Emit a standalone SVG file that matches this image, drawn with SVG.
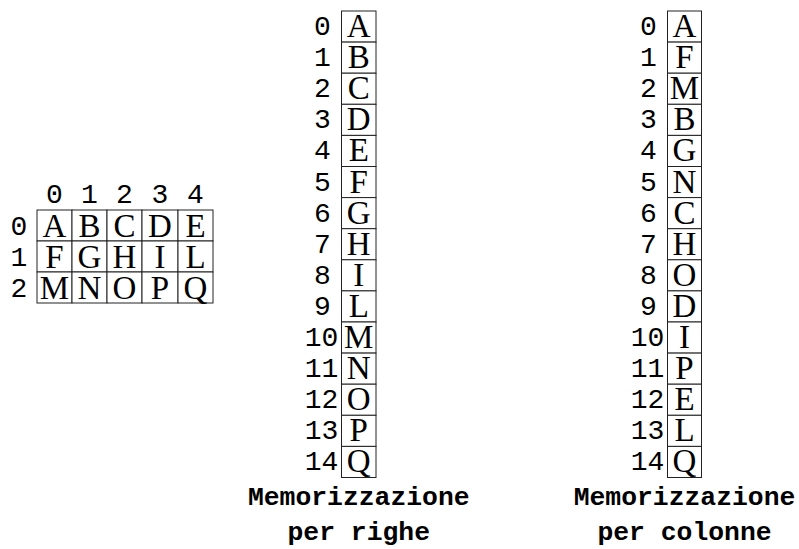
<svg xmlns="http://www.w3.org/2000/svg" width="799" height="549" viewBox="0 0 799 549">
<style>
rect.c{fill:#fff;stroke:#222;stroke-width:1}
text.l{font-family:"Liberation Serif","Times New Roman",serif;font-size:33px;fill:#000;text-anchor:middle}
text.n{font-family:"Liberation Mono","DejaVu Sans Mono",monospace;font-size:28px;fill:#000;text-anchor:middle}
text.t{font-family:"Liberation Mono","Courier New",monospace;font-size:26.4px;font-weight:bold;fill:#000;text-anchor:middle}
</style>
<rect width="799" height="549" fill="#fff"/>
<g id="matrix">
<text class="n" x="54.5" y="203">0</text>
<text class="n" x="89.5" y="203">1</text>
<text class="n" x="124.5" y="203">2</text>
<text class="n" x="160" y="203">3</text>
<text class="n" x="195.5" y="203">4</text>
<text class="n" x="19" y="235">0</text>
<text class="n" x="19" y="266">1</text>
<text class="n" x="19" y="297">2</text>
<g id="m00"><rect class="c" x="37" y="210" width="35" height="31"/><text class="l" x="54.5" y="236.5">A</text></g>
<g id="m01"><rect class="c" x="72" y="210" width="35" height="31"/><text class="l" x="89.5" y="236.5">B</text></g>
<g id="m02"><rect class="c" x="107" y="210" width="35" height="31"/><text class="l" x="124.5" y="236.5">C</text></g>
<g id="m03"><rect class="c" x="142" y="210" width="36" height="31"/><text class="l" x="160" y="236.5">D</text></g>
<g id="m04"><rect class="c" x="178" y="210" width="35" height="31"/><text class="l" x="195.5" y="236.5">E</text></g>
<g id="m10"><rect class="c" x="37" y="241" width="35" height="31"/><text class="l" x="54.5" y="267.5">F</text></g>
<g id="m11"><rect class="c" x="72" y="241" width="35" height="31"/><text class="l" x="89.5" y="267.5">G</text></g>
<g id="m12"><rect class="c" x="107" y="241" width="35" height="31"/><text class="l" x="124.5" y="267.5">H</text></g>
<g id="m13"><rect class="c" x="142" y="241" width="36" height="31"/><text class="l" x="160" y="267.5">I</text></g>
<g id="m14"><rect class="c" x="178" y="241" width="35" height="31"/><text class="l" x="195.5" y="267.5">L</text></g>
<g id="m20"><rect class="c" x="37" y="272" width="35" height="31"/><text class="l" x="54.5" y="298.5">M</text></g>
<g id="m21"><rect class="c" x="72" y="272" width="35" height="31"/><text class="l" x="89.5" y="298.5">N</text></g>
<g id="m22"><rect class="c" x="107" y="272" width="35" height="31"/><text class="l" x="124.5" y="298.5">O</text></g>
<g id="m23"><rect class="c" x="142" y="272" width="36" height="31"/><text class="l" x="160" y="298.5">P</text></g>
<g id="m24"><rect class="c" x="178" y="272" width="35" height="31"/><text class="l" x="195.5" y="298.5">Q</text></g>
</g>
<g id="righe">
<g id="r0"><text class="n" x="322.5" y="35">0</text><rect class="c" x="341.5" y="11" width="34.5" height="31.1"/><text class="l" x="358.75" y="37">A</text></g>
<g id="r1"><text class="n" x="322.5" y="66.1">1</text><rect class="c" x="341.5" y="42.1" width="34.5" height="31.1"/><text class="l" x="358.75" y="68.1">B</text></g>
<g id="r2"><text class="n" x="322.5" y="97.2">2</text><rect class="c" x="341.5" y="73.2" width="34.5" height="31.1"/><text class="l" x="358.75" y="99.2">C</text></g>
<g id="r3"><text class="n" x="322.5" y="128.3">3</text><rect class="c" x="341.5" y="104.3" width="34.5" height="31.1"/><text class="l" x="358.75" y="130.3">D</text></g>
<g id="r4"><text class="n" x="322.5" y="159.4">4</text><rect class="c" x="341.5" y="135.4" width="34.5" height="31.1"/><text class="l" x="358.75" y="161.4">E</text></g>
<g id="r5"><text class="n" x="322.5" y="190.5">5</text><rect class="c" x="341.5" y="166.5" width="34.5" height="31.1"/><text class="l" x="358.75" y="192.5">F</text></g>
<g id="r6"><text class="n" x="322.5" y="221.6">6</text><rect class="c" x="341.5" y="197.6" width="34.5" height="31.1"/><text class="l" x="358.75" y="223.6">G</text></g>
<g id="r7"><text class="n" x="322.5" y="252.7">7</text><rect class="c" x="341.5" y="228.7" width="34.5" height="31.1"/><text class="l" x="358.75" y="254.7">H</text></g>
<g id="r8"><text class="n" x="322.5" y="283.8">8</text><rect class="c" x="341.5" y="259.8" width="34.5" height="31.1"/><text class="l" x="358.75" y="285.8">I</text></g>
<g id="r9"><text class="n" x="322.5" y="314.9">9</text><rect class="c" x="341.5" y="290.9" width="34.5" height="31.1"/><text class="l" x="358.75" y="316.9">L</text></g>
<g id="r10"><text class="n" x="321.5" y="346">10</text><rect class="c" x="341.5" y="322" width="34.5" height="31.1"/><text class="l" x="358.75" y="348">M</text></g>
<g id="r11"><text class="n" x="321.5" y="377.1">11</text><rect class="c" x="341.5" y="353.1" width="34.5" height="31.1"/><text class="l" x="358.75" y="379.1">N</text></g>
<g id="r12"><text class="n" x="321.5" y="408.2">12</text><rect class="c" x="341.5" y="384.2" width="34.5" height="31.1"/><text class="l" x="358.75" y="410.2">O</text></g>
<g id="r13"><text class="n" x="321.5" y="439.3">13</text><rect class="c" x="341.5" y="415.3" width="34.5" height="31.1"/><text class="l" x="358.75" y="441.3">P</text></g>
<g id="r14"><text class="n" x="321.5" y="470.4">14</text><rect class="c" x="341.5" y="446.4" width="34.5" height="31.1"/><text class="l" x="358.75" y="472.4">Q</text></g>
<text class="t" x="358.75" y="505">Memorizzazione</text>
<text class="t" x="358.75" y="540">per righe</text>
</g>
<g id="colonne">
<g id="c0"><text class="n" x="648.5" y="35">0</text><rect class="c" x="667.5" y="11" width="34" height="31.1"/><text class="l" x="684.5" y="37">A</text></g>
<g id="c1"><text class="n" x="648.5" y="66.1">1</text><rect class="c" x="667.5" y="42.1" width="34" height="31.1"/><text class="l" x="684.5" y="68.1">F</text></g>
<g id="c2"><text class="n" x="648.5" y="97.2">2</text><rect class="c" x="667.5" y="73.2" width="34" height="31.1"/><text class="l" x="684.5" y="99.2">M</text></g>
<g id="c3"><text class="n" x="648.5" y="128.3">3</text><rect class="c" x="667.5" y="104.3" width="34" height="31.1"/><text class="l" x="684.5" y="130.3">B</text></g>
<g id="c4"><text class="n" x="648.5" y="159.4">4</text><rect class="c" x="667.5" y="135.4" width="34" height="31.1"/><text class="l" x="684.5" y="161.4">G</text></g>
<g id="c5"><text class="n" x="648.5" y="190.5">5</text><rect class="c" x="667.5" y="166.5" width="34" height="31.1"/><text class="l" x="684.5" y="192.5">N</text></g>
<g id="c6"><text class="n" x="648.5" y="221.6">6</text><rect class="c" x="667.5" y="197.6" width="34" height="31.1"/><text class="l" x="684.5" y="223.6">C</text></g>
<g id="c7"><text class="n" x="648.5" y="252.7">7</text><rect class="c" x="667.5" y="228.7" width="34" height="31.1"/><text class="l" x="684.5" y="254.7">H</text></g>
<g id="c8"><text class="n" x="648.5" y="283.8">8</text><rect class="c" x="667.5" y="259.8" width="34" height="31.1"/><text class="l" x="684.5" y="285.8">O</text></g>
<g id="c9"><text class="n" x="648.5" y="314.9">9</text><rect class="c" x="667.5" y="290.9" width="34" height="31.1"/><text class="l" x="684.5" y="316.9">D</text></g>
<g id="c10"><text class="n" x="647.5" y="346">10</text><rect class="c" x="667.5" y="322" width="34" height="31.1"/><text class="l" x="684.5" y="348">I</text></g>
<g id="c11"><text class="n" x="647.5" y="377.1">11</text><rect class="c" x="667.5" y="353.1" width="34" height="31.1"/><text class="l" x="684.5" y="379.1">P</text></g>
<g id="c12"><text class="n" x="647.5" y="408.2">12</text><rect class="c" x="667.5" y="384.2" width="34" height="31.1"/><text class="l" x="684.5" y="410.2">E</text></g>
<g id="c13"><text class="n" x="647.5" y="439.3">13</text><rect class="c" x="667.5" y="415.3" width="34" height="31.1"/><text class="l" x="684.5" y="441.3">L</text></g>
<g id="c14"><text class="n" x="647.5" y="470.4">14</text><rect class="c" x="667.5" y="446.4" width="34" height="31.1"/><text class="l" x="684.5" y="472.4">Q</text></g>
<text class="t" x="684.5" y="505">Memorizzazione</text>
<text class="t" x="684.5" y="540">per colonne</text>
</g>
</svg>
